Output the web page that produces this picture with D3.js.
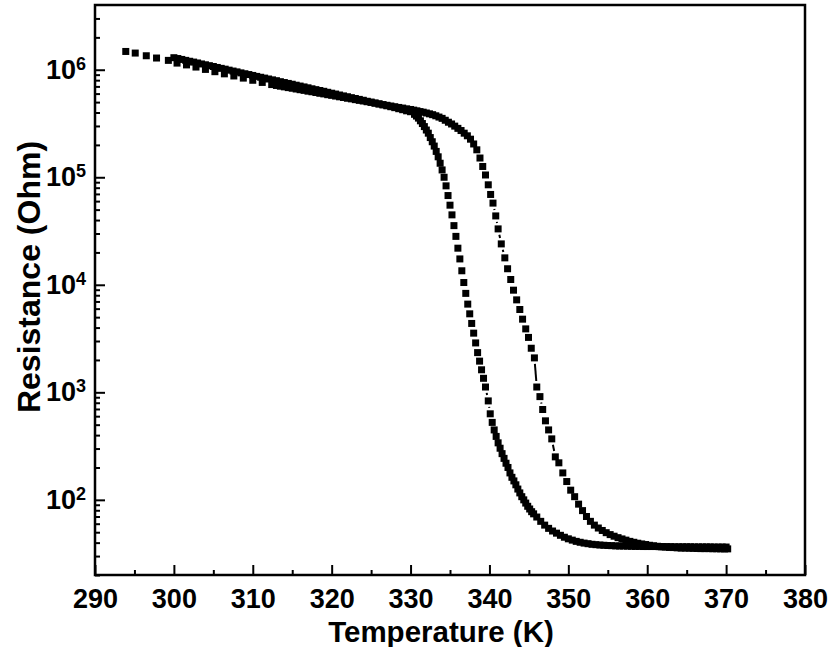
<!DOCTYPE html>
<html>
<head>
<meta charset="utf-8">
<script src="https://cdn.jsdelivr.net/npm/d3@7"></script>
<style>
  html, body { margin: 0; padding: 0; background: #fff; }
  svg { display: block; }
  text { font-family: "Liberation Sans", Arial, sans-serif; font-weight: bold; fill: #000; }
</style>
</head>
<body>
<svg id="chart" width="828" height="647"></svg>
<script>
// ---------------- DATA ----------------
// Heating branch: temperature (K)
const heatT = [293.9,295.1,296.5,297.8,299.3,300.4,301.6,302.8,304.0,305.2,306.4,307.6,308.8,310.0,311.2,312.4,
  313.0,313.5,314.0,314.5,315.0,315.5,316.0,316.5,317.0,317.5,318.0,318.5,319.0,319.5,320.0,320.5,321.0,321.5,322.0,322.5,
  323.0,323.5,324.0,324.5,325.0,325.5,326.0,326.5,327.0,327.5,328.0,328.5,329.0,329.5,330.0,
  330.4,330.8,331.2,331.6,332.0,332.4,332.8,333.2,333.6,334.0,334.4,334.8,335.2,335.6,336.0,336.4,336.8,337.2,337.6,338.0,
  338.4,338.8,339.15,339.5,339.85,340.15,340.45,340.8,341.1,341.5,341.95,342.3,342.7,343.05,343.45,343.85,344.2,344.6,344.95,
  345.3,345.7,346.0,346.4,346.75,347.1,347.5,347.9,348.35,348.8,349.3,349.8,350.3,350.8,351.3,351.8,352.3,352.8,353.3,353.8,
  354.3,354.8,355.3,355.8,356.3,356.8,357.3,357.8,358.3,358.8,359.3,359.8,360.3,360.8,361.3,361.8,362.3,362.8,363.3,363.8,
  364.3,364.8,365.3,365.8,366.3,366.8,367.3,367.8,368.3,368.8,369.3,369.8,370.2];
// Heating branch: resistance (Ohm)
const heatR = [1.479e6,1.429e6,1.349e6,1.285e6,1.222e6,1.153e6,1.109e6,1.059e6,1.007e6,9.59e5,9.16e5,8.75e5,8.36e5,7.98e5,7.62e5,7.28e5,
  7.14e5,7.03e5,6.93e5,6.82e5,6.73e5,6.62e5,6.52e5,6.43e5,6.32e5,6.24e5,6.14e5,6.04e5,5.96e5,5.86e5,5.78e5,5.69e5,5.60e5,5.52e5,5.43e5,5.36e5,
  5.27e5,5.19e5,5.12e5,5.04e5,4.97e5,4.89e5,4.81e5,4.74e5,4.67e5,4.60e5,4.53e5,4.46e5,4.40e5,4.33e5,4.27e5,
  4.21e5,4.15e5,4.08e5,4.03e5,3.96e5,3.89e5,3.82e5,3.73e5,3.63e5,3.53e5,3.39e5,3.25e5,3.13e5,2.99e5,2.85e5,2.72e5,2.57e5,2.43e5,2.26e5,2.04e5,
  1.80e5,1.51e5,1.26e5,1.05e5,8.51e4,6.92e4,5.75e4,4.37e4,3.31e4,2.40e4,1.78e4,1.41e4,1.12e4,8.91e3,7.24e3,5.89e3,4.79e3,3.89e3,3.24e3,
  2.57e3,2.09e3,1.12e3,912,692,543,447,369,251,221,178,148,123,107,91.2,79.4,70.0,63.1,58.2,54.7,
  51.9,49.5,47.5,45.9,44.5,43.3,42.2,41.1,40.3,39.5,38.9,38.4,37.8,37.4,37.0,36.6,36.4,36.1,36.0,35.8,
  35.6,35.6,35.5,35.4,35.3,35.2,35.2,35.2,35.1,35.1,35.0,35.0,35.0];

// Cooling branch: temperature (K)
const coolT = [300.0,300.5,301.0,301.5,302.0,302.5,303.0,303.5,304.0,304.5,305.0,305.5,306.0,306.5,307.0,307.5,308.0,308.5,309.0,309.5,
  310.0,310.5,311.0,311.5,312.0,312.5,313.0,313.5,314.0,314.5,315.0,315.5,316.0,316.5,317.0,317.5,318.0,318.5,319.0,319.5,
  320.0,320.5,321.0,321.5,322.0,322.5,323.0,323.5,324.0,324.5,325.0,325.5,326.0,326.5,327.0,327.5,328.0,328.5,329.0,329.5,
  330.0,330.5,330.75,331.0,331.25,331.5,331.75,332.0,332.25,332.5,332.75,333.0,333.25,333.5,333.75,334.0,334.25,334.5,334.75,
  335.0,335.25,335.5,335.75,336.0,336.25,336.5,336.75,337.0,337.25,337.5,337.75,338.0,338.25,338.5,338.75,339.0,339.25,339.5,
  339.85,340.1,340.35,340.6,340.85,341.1,341.35,341.6,341.85,342.1,342.35,342.6,342.85,343.1,343.35,343.6,343.85,344.1,344.35,
  344.6,344.85,345.1,345.35,345.6,346.0,346.5,347.0,347.5,348.0,348.5,349.0,349.5,350.0,350.5,351.0,351.5,352.0,352.5,353.0,
  353.5,354.0,354.5,355.0,355.5,356.0,356.5,357.0,357.5,358.0,358.5,359.0,359.5,360.0,360.5,361.0,361.5,362.0,362.5,363.0,
  363.5,364.0,364.5,365.0,365.5,366.0,366.5,367.0,367.5,368.0,368.5,369.0,369.5,370.0];
// Cooling branch: resistance (Ohm)
const coolR = [1.294e6,1.271e6,1.247e6,1.222e6,1.199e6,1.178e6,1.156e6,1.132e6,1.112e6,1.091e6,1.072e6,1.050e6,1.030e6,1.012e6,9.91e5,9.72e5,9.55e5,9.35e5,9.18e5,9.02e5,
  8.85e5,8.67e5,8.51e5,8.36e5,8.20e5,8.05e5,7.91e5,7.74e5,7.60e5,7.46e5,7.33e5,7.18e5,7.05e5,6.92e5,6.79e5,6.65e5,6.53e5,6.41e5,6.30e5,6.17e5,
  6.05e5,5.94e5,5.82e5,5.71e5,5.61e5,5.50e5,5.40e5,5.30e5,5.20e5,5.09e5,5.00e5,4.90e5,4.81e5,4.71e5,4.62e5,4.53e5,4.44e5,4.34e5,4.25e5,4.15e5,
  4.07e5,3.85e5,3.71e5,3.55e5,3.35e5,3.16e5,2.96e5,2.75e5,2.57e5,2.34e5,2.14e5,1.95e5,1.74e5,1.55e5,1.35e5,1.17e5,1.00e5,8.32e4,6.76e4,
  5.50e4,4.47e4,3.55e4,2.82e4,2.19e4,1.74e4,1.35e4,1.05e4,8.32e3,6.61e3,5.37e3,4.37e3,3.55e3,2.88e3,2.34e3,1.95e3,1.62e3,1.35e3,1.12e3,
  832,631,525,447,389,339,302,269,243,219,200,178,162,150,138,126,116,107,100,
  93.3,87.1,82.2,77.6,74.1,69.2,63.1,58.2,54.3,51.3,49.0,46.8,44.9,43.4,42.2,41.1,40.3,39.6,39.1,38.6,
  38.3,38.0,37.8,37.6,37.5,37.3,37.2,37.2,37.1,37.0,36.9,36.9,36.8,36.8,36.8,36.8,36.7,36.7,36.7,36.7,
  36.6,36.6,36.6,36.6,36.6,36.5,36.5,36.5,36.5,36.5,36.4,36.4,36.4,36.4];

// Axes ticks and labels
const xMajorTicks = [290,300,310,320,330,340,350,360,370,380];
const xMinorTicks = [295,305,315,325,335,345,355,365,375];
const yMajorTicks = [1e2,1e3,1e4,1e5,1e6];
const yMinorTicks = [20,30,40,50,60,70,80,90,200,300,400,500,600,700,800,900,
  2e3,3e3,4e3,5e3,6e3,7e3,8e3,9e3,2e4,3e4,4e4,5e4,6e4,7e4,8e4,9e4,
  2e5,3e5,4e5,5e5,6e5,7e5,8e5,9e5,2e6,3e6];
const xDomain = [290, 380];
const yDomain = [20, 4e6];
const xTitle = "Temperature (K)";
const yTitle = "Resistance (Ohm)";

// ---------------- DRAWING ----------------
const svg = d3.select("#chart");
const plot = {left: 95, right: 805, top: 5, bottom: 575};

const x = d3.scaleLinear().domain(xDomain).range([plot.left, plot.right]);
const y = d3.scaleLog().domain(yDomain).range([plot.bottom, plot.top]);

svg.append("defs").append("clipPath").attr("id", "clip")
  .append("rect").attr("x", plot.left).attr("y", plot.top)
  .attr("width", plot.right - plot.left).attr("height", plot.bottom - plot.top);

const series = [
  {T: heatT, R: heatR},
  {T: coolT, R: coolR}
];

const marker = 7;
const gap = 6;
const dataG = svg.append("g").attr("clip-path", "url(#clip)");

series.forEach(s => {
  const pts = s.T.map((t, i) => [x(t), y(s.R[i])]);
  // connecting line with a gap to each symbol (only visible where points are far apart)
  const segs = [];
  for (let i = 1; i < pts.length; i++) {
    const [x1, y1] = pts[i - 1], [x2, y2] = pts[i];
    const d = Math.hypot(x2 - x1, y2 - y1);
    if (d > 2 * gap + 1) {
      const ux = (x2 - x1) / d, uy = (y2 - y1) / d;
      segs.push([x1 + ux * gap, y1 + uy * gap, x2 - ux * gap, y2 - uy * gap]);
    }
  }
  dataG.append("g").selectAll("line").data(segs).join("line")
    .attr("x1", d => d[0]).attr("y1", d => d[1])
    .attr("x2", d => d[2]).attr("y2", d => d[3])
    .attr("stroke", "#000").attr("stroke-width", 2);
  dataG.append("g").selectAll("rect").data(pts).join("rect")
    .attr("x", d => d[0] - marker / 2).attr("y", d => d[1] - marker / 2)
    .attr("width", marker).attr("height", marker)
    .attr("fill", "#000");
});

// X axis
const xAxis = d3.axisBottom(x).tickValues(xMajorTicks).tickSizeInner(-10).tickSizeOuter(0)
  .tickPadding(14).tickFormat(d3.format("d"));
const gx = svg.append("g").attr("transform", `translate(0,${plot.bottom})`).call(xAxis);
gx.select(".domain").remove();
gx.selectAll(".tick line").attr("stroke", "#000").attr("stroke-width", 2);
gx.selectAll(".tick text").attr("font-size", 27).attr("font-family", "Liberation Sans, Arial, sans-serif").attr("font-weight", "bold");

const xMinor = d3.axisBottom(x).tickValues(xMinorTicks).tickSizeInner(-5).tickSizeOuter(0).tickFormat("");
const gxm = svg.append("g").attr("transform", `translate(0,${plot.bottom})`).call(xMinor);
gxm.select(".domain").remove();
gxm.selectAll(".tick line").attr("stroke", "#000").attr("stroke-width", 2);

// Y axis
const yAxis = d3.axisLeft(y).tickValues(yMajorTicks).tickSizeInner(-10).tickSizeOuter(0)
  .tickPadding(9).tickFormat(() => "");
const gy = svg.append("g").attr("transform", `translate(${plot.left},0)`).call(yAxis);
gy.select(".domain").remove();
gy.selectAll(".tick line").attr("stroke", "#000").attr("stroke-width", 2);
gy.selectAll(".tick text").attr("font-size", 27).attr("font-family", "Liberation Sans, Arial, sans-serif").attr("font-weight", "bold")
  .each(function(d) {
    const t = d3.select(this);
    t.append("tspan").text("10");
    t.append("tspan").attr("dy", "-0.5em").attr("font-size", "18px").text(Math.round(Math.log10(d)));
  });

const yMinor = d3.axisLeft(y).tickValues(yMinorTicks).tickSizeInner(-5).tickSizeOuter(0).tickFormat("");
const gym = svg.append("g").attr("transform", `translate(${plot.left},0)`).call(yMinor);
gym.select(".domain").remove();
gym.selectAll(".tick line").attr("stroke", "#000").attr("stroke-width", 2);

// Frame
svg.append("rect").attr("x", plot.left).attr("y", plot.top)
  .attr("width", plot.right - plot.left).attr("height", plot.bottom - plot.top)
  .attr("fill", "none").attr("stroke", "#000").attr("stroke-width", 2.5);

// Titles
svg.append("text").attr("x", 441).attr("y", 642).attr("text-anchor", "middle")
  .attr("font-size", 29.5).text(xTitle);
svg.append("text").attr("transform", "translate(40,277) rotate(-90)").attr("text-anchor", "middle")
  .attr("font-size", 32).text(yTitle);
</script>
</body>
</html>
